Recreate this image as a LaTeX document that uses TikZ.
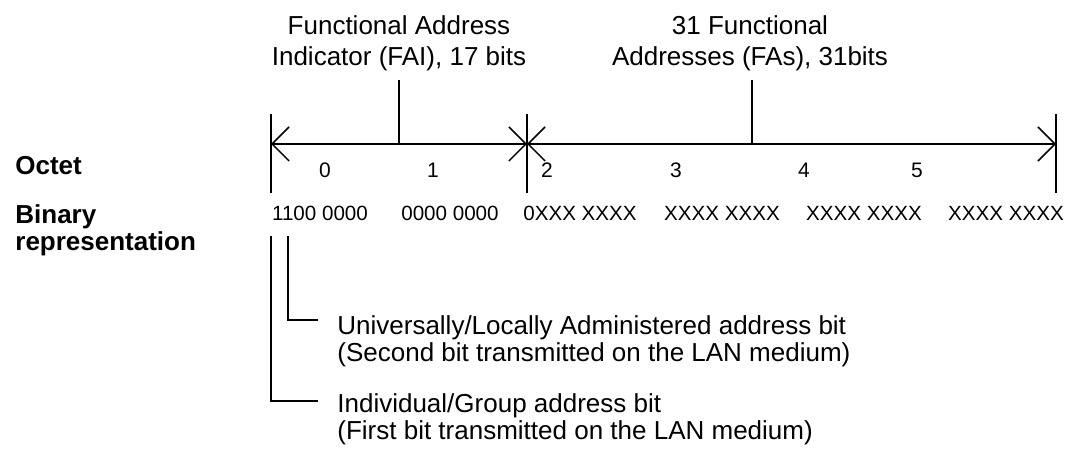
\documentclass[tikz,border=0pt]{standalone}
\usepackage{fontspec}
\setmainfont{Liberation Sans}
\usetikzlibrary{arrows.meta}

\begin{document}
\begin{tikzpicture}[x=0.5pt, y=-0.5pt]
            \tikzstyle{axis} = [line width=1pt]
            \tikzstyle{dimline} = [line width=1pt, {Straight Barb[length=8.5pt, width=17pt, line width=0.75pt]}-{Straight Barb[length=8.5pt, width=17pt, line width=0.75pt]}]
            \tikzstyle{lead} = [line width=0.75pt]
            \tikzstyle{heading} = [font=\fontsize{13}{15.5}\selectfont, align=center, anchor=north, inner sep=0pt]
            \tikzstyle{rowname} = [font=\fontsize{13}{13.5}\selectfont\bfseries, align=left, anchor=north west, inner sep=0pt]
            \tikzstyle{octet} = [font=\fontsize{10.5}{12}\selectfont, inner sep=0pt]
            \tikzstyle{bits} = [font=\fontsize{10.3}{12}\selectfont, inner sep=0pt]
            \tikzstyle{note} = [font=\fontsize{13}{13.5}\selectfont, align=left, anchor=north west, inner sep=0pt]
            \useasboundingbox (0, 0) rectangle (1066, 453);
            \coordinate (left) at (271, 144);
            \coordinate (mid) at (527, 144);
            \coordinate (right) at (1056, 144);
            \coordinate (fai) at (399, 144);
            \coordinate (fas) at (752, 144);
            \draw[axis] (left) ++(0, -30) -- ++(0, 79);
            \draw[axis] (mid) ++(0, -30) -- ++(0, 79);
            \draw[axis] (right) ++(0, -30) -- ++(0, 79);
            \draw[dimline] (left) -- (mid);
            \draw[dimline] (mid) -- (right);
            \node[heading] (faitext) at (399, 15) {Functional Address\\Indicator (FAI), 17 bits};
            \node[heading] (fastext) at (750, 15) {31 Functional\\Addresses (FAs), 31bits};
            \draw[axis] (fai) -- ++(0, -64);
            \draw[axis] (fas) -- ++(0, -64);
            \node[rowname, anchor=base west] (octetname) at (15, 175) {Octet};
            \node[rowname] (binaryname) at (15, 204) {Binary\\representation};
            \foreach \n/\x in {0/325, 1/433, 2/547, 3/676, 4/804, 5/917}
                \node[octet] (oct\n) at (\x, 170) {\n};
            \node[bits] (bin0) at (320, 213) {1100 0000};
            \node[bits] (bin1) at (450, 213) {0000 0000};
            \node[bits] (bin2) at (580, 213) {0XXX XXXX};
            \node[bits] (bin3) at (722, 213) {XXXX XXXX};
            \node[bits] (bin4) at (864, 213) {XXXX XXXX};
            \node[bits] (bin5) at (1006, 213) {XXXX XXXX};
            \node[note] (ulbit) at (337, 315) {Universally/Locally Administered address bit\\(Second bit transmitted on the LAN medium)};
            \node[note] (igbit) at (337, 393) {Individual/Group address bit\\(First bit transmitted on the LAN medium)};
            \coordinate (ulstart) at (288, 236);
            \coordinate (igstart) at (271, 236);
            \coordinate (ulend) at (318, 320);
            \coordinate (igend) at (318, 401);
            \draw[lead] (ulstart) |- (ulend);
            \draw[lead] (igstart) |- (igend);
        \end{tikzpicture}
\end{document}
